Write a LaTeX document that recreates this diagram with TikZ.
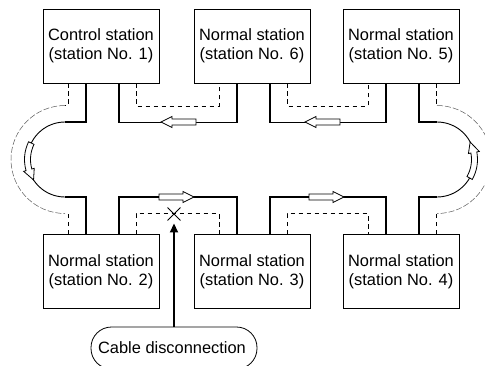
\documentclass[tikz,border=0pt]{standalone}
\usepackage{fontspec}
\setmainfont{Liberation Sans}
\usetikzlibrary{arrows.meta,shapes.misc}
\begin{document}
\begin{tikzpicture}[x=1pt,y=1pt,
  station/.style={draw,line width=0.8pt,minimum width=116pt,minimum height=74pt,
    align=center,inner sep=0pt,font=\fontsize{16.4}{18.5}\selectfont},
  solidline/.style={line width=1.7pt},
  dashline/.style={line width=0.8pt,dash pattern=on 4.5pt off 3.5pt},
  arcsolid/.style={line width=0.9pt},
  arcdash/.style={line width=0.5pt,gray!70!black,dash pattern=on 6pt off 2pt},
  blockarrow/.pic={\draw[fill=white,line width=0.8pt,line join=miter]
     (0,3)--(24,3)--(24,5.5)--(35,0)--(24,-5.5)--(24,-3)--(0,-3)--cycle;}
]
\useasboundingbox (0,0) rectangle (485,-365);
\clip (0,0) rectangle (485,-365);

% stations
\node[station] (t1) at (101,-46)   {Control station\\(station No. 1)};
\node[station] (t2) at (252,-46)   {Normal station\\(station No. 6)};
\node[station] (t3) at (401,-46)   {Normal station\\(station No. 5)};
\node[station] (b1) at (101,-271.5){Normal station\\(station No. 2)};
\node[station] (b2) at (252,-271.5){Normal station\\(station No. 3)};
\node[station] (b3) at (401,-271.5){Normal station\\(station No. 4)};

% ports
\foreach \n in {t1,t2,t3}{
  \coordinate (\n-a) at ([xshift=-33pt]\n.south);
  \coordinate (\n-b) at ([xshift=-15pt]\n.south);
  \coordinate (\n-c) at ([xshift=18pt]\n.south);
  \coordinate (\n-d) at ([xshift=35pt]\n.south);
}
\foreach \n in {b1,b2,b3}{
  \coordinate (\n-a) at ([xshift=-33pt]\n.north);
  \coordinate (\n-b) at ([xshift=-15pt]\n.north);
  \coordinate (\n-c) at ([xshift=18pt]\n.north);
  \coordinate (\n-d) at ([xshift=35pt]\n.north);
}

% loop ends
\coordinate (LsT) at (65,-122);
\coordinate (LsB) at (65,-197);
\coordinate (LdT) at (65,-105.5);
\coordinate (LdB) at (65,-213.5);
\coordinate (RsT) at (437,-122);
\coordinate (RsB) at (437,-197);
\coordinate (RdT) at (437,-105.5);
\coordinate (RdB) at (437,-213.5);

% top connections
\draw[solidline] (t1-c) -- ++(0,-39) -| (t2-b);
\draw[dashline]  (t1-d) -- ++(0,-22.5) -| (t2-a);
\draw[solidline] (t2-c) -- ++(0,-39) -| (t3-b);
\draw[dashline]  (t2-d) -- ++(0,-22.5) -| (t3-a);

% bottom connections
\draw[solidline] (b1-c) -- ++(0,37) -| (b2-b);
\draw[dashline]  (b1-d) -- ++(0,20.5) -| (b2-a);
\draw[solidline] (b2-c) -- ++(0,37) -| (b3-b);
\draw[dashline]  (b2-d) -- ++(0,20.5) -| (b3-a);

% left loop
\draw[solidline] (t1-b) |- (LsT);
\draw[solidline] (b1-b) |- (LsB);
\draw[dashline]  (t1-a) |- (LdT);
\draw[dashline]  (b1-a) |- (LdB);
\draw[arcsolid] (LsT) arc[start angle=90,end angle=270,radius=37.5];
\draw[arcdash]  (LdT) arc[start angle=90,end angle=270,radius=54];

% right loop
\draw[solidline] (t3-c) |- (RsT);
\draw[solidline] (b3-c) |- (RsB);
\draw[dashline]  (t3-d) |- (RdT);
\draw[dashline]  (b3-d) |- (RdB);
\draw[arcsolid] (RsT) arc[start angle=90,end angle=-90,radius=37.5];
\draw[arcdash]  (RdT) arc[start angle=90,end angle=-90,radius=54];

% straight hollow arrows
\pic[rotate=180] at (196,-122) {blockarrow};
\pic[rotate=180] at (340,-122) {blockarrow};
\pic at (159,-197) {blockarrow};
\pic at (309,-197) {blockarrow};

% curved hollow arrows
\begin{scope}[shift={(65,-159.5)}]
  \draw[fill=white,line width=0.8pt,line join=miter]
    (154:40.5) arc[start angle=154,end angle=196,radius=40.5]
    -- (196:43) -- (213:37.5) -- (196:32) -- (196:34.5)
    arc[start angle=196,end angle=154,radius=34.5] -- cycle;
\end{scope}
\begin{scope}[shift={(437,-159.5)}]
  \draw[fill=white,line width=0.8pt,line join=miter]
    (-29.5:40.5) arc[start angle=-29.5,end angle=10.8,radius=40.5]
    -- (10.8:43) -- (27.8:37.5) -- (10.8:32) -- (10.8:34.5)
    arc[start angle=10.8,end angle=-29.5,radius=34.5] -- cycle;
\end{scope}

% disconnection
\node[cross out,draw,line width=0.9pt,minimum size=12pt,inner sep=0pt] (x) at (174,-214) {};
\node[draw,line width=0.8pt,rounded corners=20.5pt,minimum width=166pt,minimum height=42pt] (cable) at (174,-348) {};
\node[anchor=base,font=\fontsize{16.4}{18.5}\selectfont] (cabletext) at (172,-353) {Cable disconnection};
\draw[line width=1.7pt,-{Triangle[length=9pt,width=8pt]}] (cable.north -| x.south) -- ([yshift=-3pt]x.south);
\end{tikzpicture}
\end{document}
